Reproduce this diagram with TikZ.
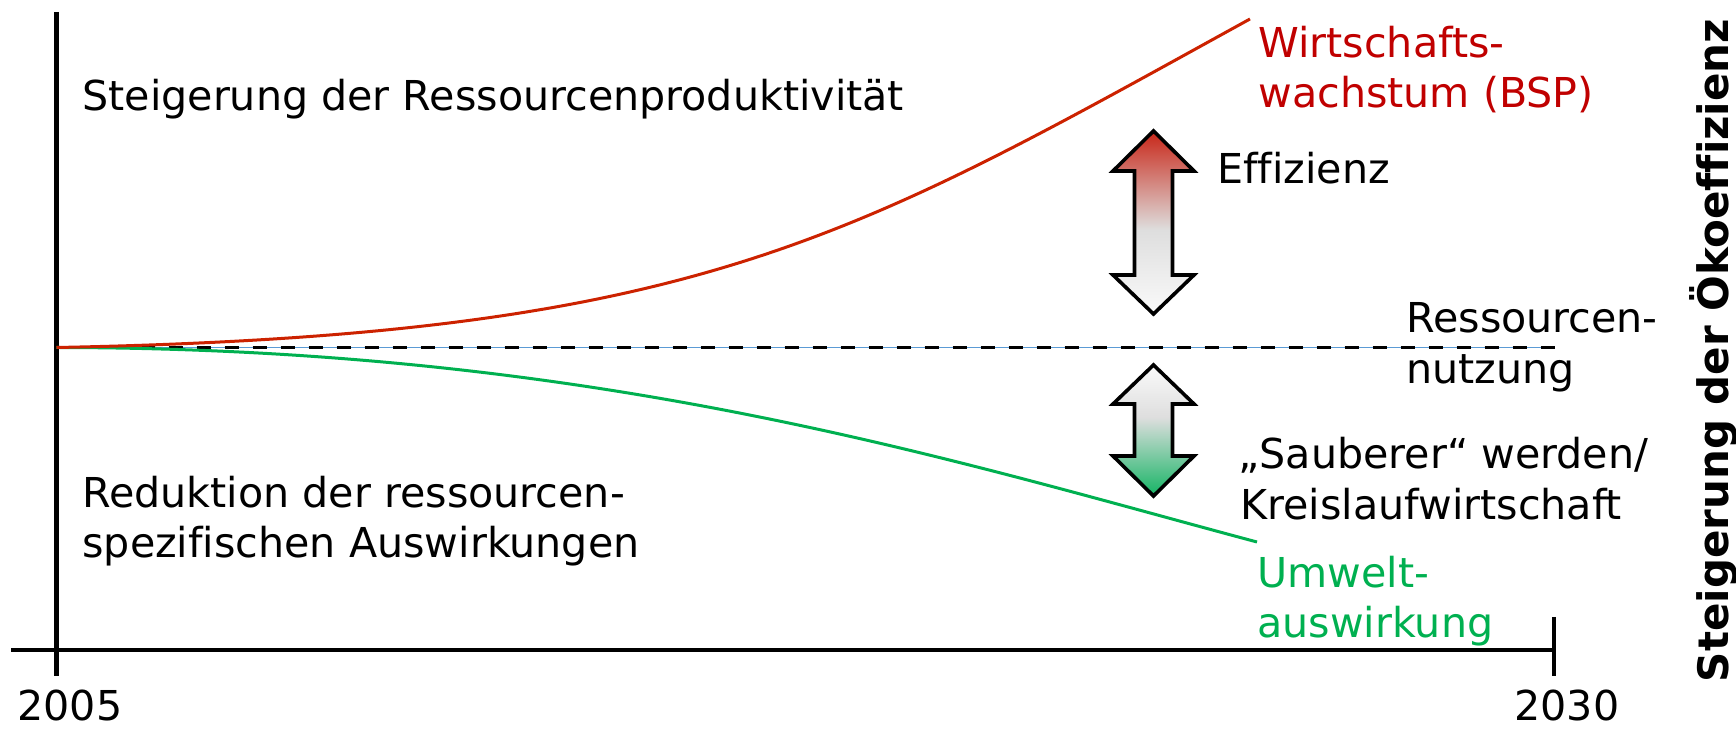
\documentclass[tikz,border=0pt]{standalone}
\usepackage{fontspec}
\setmainfont[Ligatures=NoCommon]{DejaVu Sans}
\definecolor{curvered}{RGB}{204,34,0}
\definecolor{textred}{RGB}{192,0,0}
\definecolor{envgreen}{RGB}{0,176,80}
\definecolor{thinblue}{RGB}{91,155,213}
\definecolor{arrRed}{RGB}{200,38,24}
\definecolor{arrGray}{RGB}{222,222,222}
\definecolor{arrWhite}{RGB}{250,250,250}
\definecolor{arrGreen}{RGB}{20,180,100}
\pgfdeclareverticalshading{effshade}{100bp}{color(0bp)=(arrWhite); color(25bp)=(arrWhite); color(48bp)=(arrGray); color(75bp)=(arrRed); color(100bp)=(arrRed)}
\pgfdeclareverticalshading{cleanshade}{100bp}{color(0bp)=(arrGreen); color(25bp)=(arrGreen); color(55bp)=(arrGray); color(75bp)=(arrWhite); color(100bp)=(arrWhite)}
\begin{document}
\begin{tikzpicture}[x=0.5pt,y=-0.5pt,
  lbl/.style={font=\fontsize{20.6}{25}\selectfont, anchor=base west, inner sep=0pt},
  axisline/.style={line width=2.25pt, black},
  redcurve/.style={line width=1.5pt, curvered},
  greencurve/.style={line width=1.5pt, envgreen},
  dashline/.style={line width=1.6pt, black, dash pattern=on 7pt off 7pt},
  blueline/.style={line width=0.5pt, thinblue},
  bigarrow/.style={draw=black, line width=1.8pt, line join=miter}]
\useasboundingbox (0,0) rectangle (1736,731);

% axes
\coordinate (vtop) at (56.5,12);
\coordinate (vbot) at (56.5,676);
\coordinate (hleft) at (11,650);
\coordinate (hright) at (1554,650);
\coordinate (ttop) at (1554,617);
\coordinate (tbot) at (1554,676);
\draw[axisline] (vtop) -- (vbot);
\draw[axisline] (hleft) -- (hright);
\draw[axisline] (ttop) -- (tbot);

% reference line
\coordinate (o) at (56.5,347.5);
\coordinate (rend) at (1555,347.5);
\coordinate (gend) at (1257,542);
\coordinate (rtop) at (1250,19);
\draw[blueline] (o) -- (rend);
\draw[dashline] (o) -- (rend);

% curves
\draw[greencurve] (o) .. controls (600,348) and (950,460) .. (gend);
\draw[redcurve] (o) .. controls (700,335) and (850,239) .. (rtop);

% arrows
\path[bigarrow, shading=effshade] (1153.5,131) -- (1194,171) -- (1172.5,171) -- (1172.5,275) -- (1194,275) -- (1153.5,314) -- (1113,275) -- (1134.5,275) -- (1134.5,171) -- (1113,171) -- cycle;
\path[bigarrow, shading=cleanshade] (1153.5,365) -- (1194,404) -- (1172.5,404) -- (1172.5,456) -- (1194,456) -- (1153.5,496) -- (1113,456) -- (1134.5,456) -- (1134.5,404) -- (1113,404) -- cycle;

% texts
\node[lbl] (steig) at (82,111) {Steigerung der Ressourcenproduktivität};
\node[lbl] (red1) at (82,508) {Reduktion der ressourcen-};
\node[lbl] (red2) at (82,558) {spezifischen Auswirkungen};
\node[lbl, textred] (wi1) at (1258,58) {Wirtschafts-};
\node[lbl, textred] (wi2) at (1258,108) {wachstum (BSP)};
\node[lbl] (eff) at (1217,184) {Effizienz};
\node[lbl] (res1) at (1406,333) {Ressourcen-};
\node[lbl] (res2) at (1406,384) {nutzung};
\node[lbl] (sau1) at (1238,469) {„Sauberer“ werden/};
\node[lbl] (sau2) at (1240,520) {Kreislaufwirtschaft};
\node[lbl, envgreen] (um1) at (1257,588) {Umwelt-};
\node[lbl, envgreen] (um2) at (1257,638) {auswirkung};
\node[lbl] (y1) at (17,721) {2005};
\node[lbl] (y2) at (1514,721) {2030};
\node[font=\bfseries\fontsize{21}{25}\selectfont, rotate=90, anchor=base, inner sep=0pt] (ylab) at (1728,350.5) {Steigerung der Ökoeffizienz};
\end{tikzpicture}
\end{document}
